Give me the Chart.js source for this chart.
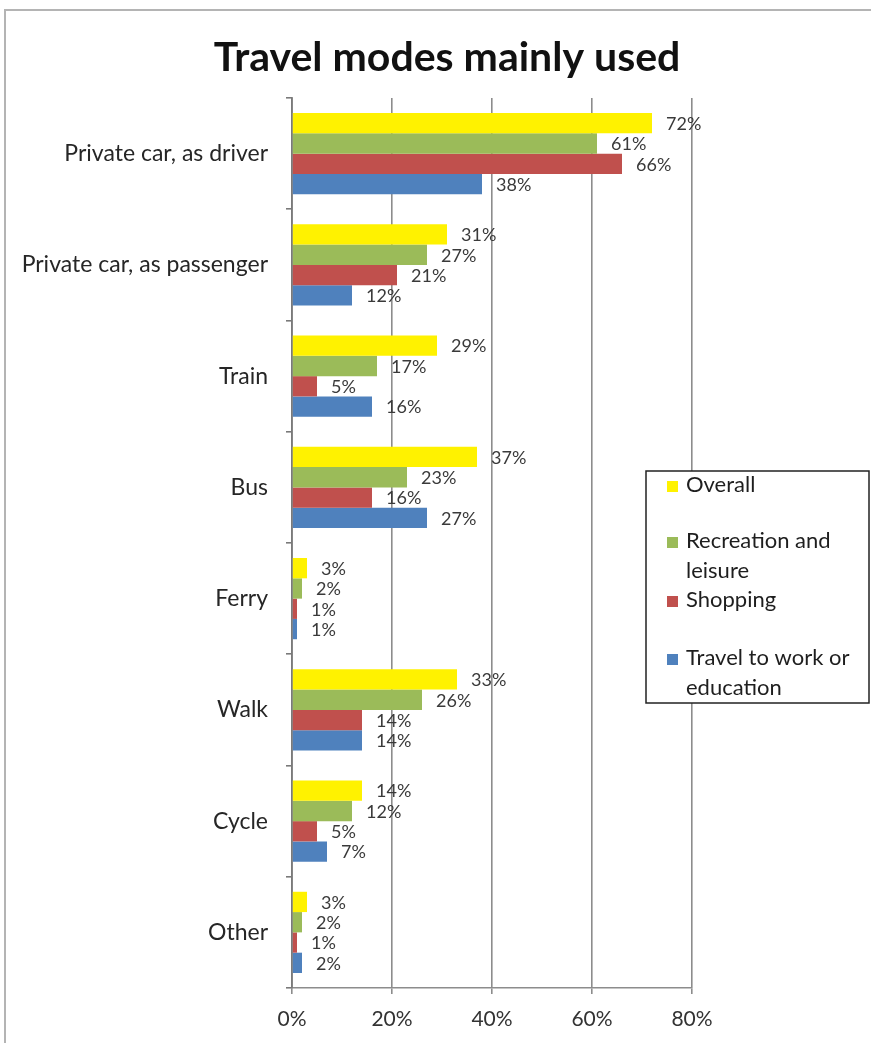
<!DOCTYPE html>
<html>
<head>
<meta charset="utf-8">
<title>Travel modes mainly used</title>
<script src="https://cdn.jsdelivr.net/npm/chart.js@4/dist/chart.umd.min.js"></script>
<style>
  html, body { margin: 0; padding: 0; background: #fff; }
  #wrap { position: relative; width: 871px; height: 1043px; }
  #frame { position: absolute; left: 4px; top: 9px; right: -2px; bottom: -2px;
           border-top: 2px solid #b4b4b4; border-left: 2px solid #b4b4b4; pointer-events: none; }
</style>
</head>
<body>
<div id="wrap">
  <canvas id="modesChart" width="871" height="1043"></canvas>
  <div id="frame"></div>
</div>
<script>
const categories = ['Private car, as driver', 'Private car, as passenger', 'Train', 'Bus', 'Ferry', 'Walk', 'Cycle', 'Other'];
const overall = [72, 31, 29, 37, 3, 33, 14, 3];
const recreation = [61, 27, 17, 23, 2, 26, 12, 2];
const shopping = [66, 21, 5, 16, 1, 14, 5, 1];
const workEducation = [38, 12, 16, 27, 1, 14, 7, 2];
const seriesNames = ['Overall', 'Recreation and leisure', 'Shopping', 'Travel to work or education'];
const legendLines = [['Overall'], ['Recreation and', 'leisure'], ['Shopping'], ['Travel to work or', 'education']];
const xTicks = [0, 20, 40, 60, 80];
const chartTitle = 'Travel modes mainly used';

const colors = ['#fff200', '#9bbb59', '#c0504d', '#4f81bd'];
const FONT = 'Lato, "Open Sans", sans-serif';

// title, value labels and the boxed legend
const extras = {
  id: 'extras',
  afterDatasetsDraw(chart) {
    const ctx = chart.ctx;
    ctx.save();
    ctx.font = '18px ' + FONT;
    ctx.fillStyle = '#3a3a3a';
    ctx.textBaseline = 'middle';
    ctx.textAlign = 'left';
    chart.data.datasets.forEach((ds, i) => {
      chart.getDatasetMeta(i).data.forEach((bar, j) => {
        ctx.fillText(ds.data[j] + '%', bar.x + 14, bar.y + 1);
      });
    });
    ctx.restore();
  },
  afterDraw(chart) {
    const ctx = chart.ctx;
    ctx.save();
    ctx.font = 'bold 41px ' + FONT;
    ctx.fillStyle = '#111';
    ctx.textAlign = 'center';
    ctx.textBaseline = 'middle';
    ctx.fillText(chartTitle, 447, 58);

    // legend box
    ctx.fillStyle = '#fff';
    ctx.fillRect(646, 471, 223, 232);
    ctx.strokeStyle = '#222';
    ctx.lineWidth = 1.5;
    ctx.strokeRect(646, 471, 223, 232);
    const itemTop = [485, 541, 600, 658];
    ctx.font = '22px ' + FONT;
    ctx.textAlign = 'left';
    legendLines.forEach((lines, i) => {
      ctx.fillStyle = chart.data.datasets[i].backgroundColor;
      ctx.fillRect(667, itemTop[i] - 4, 11, 11);
      ctx.fillStyle = '#1e1e1e';
      lines.forEach((t, k) => ctx.fillText(t, 686, itemTop[i] + k * 30));
    });
    ctx.restore();
  }
};

const series = [overall, recreation, shopping, workEducation];

new Chart(document.getElementById('modesChart'), {
  type: 'bar',
  data: {
    labels: categories,
    datasets: series.map((values, i) => ({
      label: seriesNames[i],
      data: values,
      backgroundColor: colors[i],
      borderWidth: 0,
      categoryPercentage: 0.73,
      barPercentage: 1.0
    }))
  },
  options: {
    indexAxis: 'y',
    responsive: false,
    animation: false,
    layout: { padding: { top: 98, right: 179, left: 0, bottom: 0 } },
    plugins: {
      legend: { display: false },
      title: { display: false },
      tooltip: { enabled: false }
    },
    scales: {
      x: {
        min: 0,
        max: 80,
        afterBuildTicks: (scale) => { scale.ticks = xTicks.map(v => ({ value: v })); },
        afterFit: (scale) => { scale.height = 55; },
        ticks: {
          callback: (v) => v + '%',
          color: '#333',
          font: { family: FONT, size: 21 },
          padding: 13
        },
        grid: { color: '#8c8c8c', lineWidth: 1.6, tickLength: 6 },
        border: { color: '#8c8c8c', width: 1.6 }
      },
      y: {
        afterFit: (scale) => { scale.width = 292; },
        ticks: {
          color: '#262626',
          font: { family: FONT, size: 23 },
          padding: 18
        },
        grid: { drawOnChartArea: false, color: '#7a7a7a', lineWidth: 1.6, tickLength: 6, offset: true },
        border: { color: '#7a7a7a', width: 1.8 }
      }
    }
  },
  plugins: [extras]
});
</script>
</body>
</html>
